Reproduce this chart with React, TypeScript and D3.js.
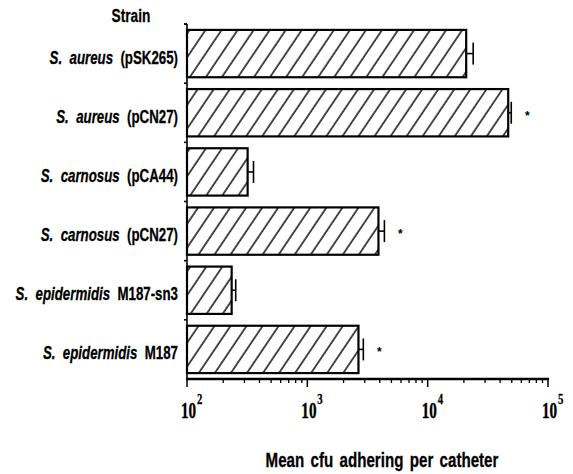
import React from "react";
import * as d3 from "d3";

const species = ["S. aureus", "S. aureus", "S. carnosus", "S. carnosus", "S. epidermidis", "S. epidermidis"];
const strainIds = ["(pSK265)", "(pCN27)", "(pCA44)", "(pCN27)", "M187-sn3", "M187"];
const meanCfu = [20900, 46700, 319, 3900, 235, 2660];
const errorHigh = [23900, 49500, 357, 4370, 254, 2920];
const significant = [false, true, false, true, false, true];
const tickExponents = [2, 3, 4, 5];

const W = 573;
const H = 474;
const left = 187;
const right = 548;
const top = 24;
const bottom = 379;
const SX = 0.7;

export default function App() {
  const keys = species.map((_, i) => String(i));
  const x = d3.scaleLog().domain([100, 100000]).range([left, right]);
  const y = d3.scaleBand<string>().domain(keys).range([top, bottom]).paddingInner(0.2).paddingOuter(0.1);
  const bw = y.bandwidth();

  const minor: number[] = [];
  for (let e = 2; e < 5; e++) {
    for (let m = 2; m <= 9; m++) minor.push(m * Math.pow(10, e));
  }
  const boundaries = keys.map((k) => (y(k) as number) - (y.step() * y.paddingInner()) / 2);

  const sans = "'Liberation Sans', Arial, Helvetica, sans-serif";
  const serif = "'Liberation Serif', 'Times New Roman', serif";

  return (
    <svg width={W} height={H} style={{ position: "absolute", left: 0, top: 0, background: "#fff" }}>
      <defs>
        <pattern id="hatch" patternUnits="userSpaceOnUse" width={13.3} height={20} patternTransform="rotate(34)">
          <line x1={1} y1={0} x2={1} y2={20} stroke="#000" strokeWidth={1.4} />
        </pattern>
      </defs>
      <rect x={0} y={0} width={W} height={H} fill="#fff" />

      {/* title */}
      <text transform={`translate(131,22) scale(0.72,1)`} textAnchor="middle" fontFamily={sans} fontWeight="bold" fontSize={19} stroke="#000" strokeWidth={0.3}>
        Strain
      </text>

      {/* bars */}
      {keys.map((k, i) => {
        const y0 = y(k) as number;
        const cy = y0 + bw / 2;
        const xe = x(meanCfu[i]);
        const xh = x(errorHigh[i]);
        return (
          <g key={k}>
            <rect x={left} y={y0} width={xe - left} height={bw} fill="url(#hatch)" stroke="#000" strokeWidth={2.2} />
            <line x1={xe} x2={xh} y1={cy} y2={cy} stroke="#000" strokeWidth={1.6} />
            <line x1={xh} x2={xh} y1={cy - 11} y2={cy + 11} stroke="#000" strokeWidth={1.6} />
            {significant[i] && (
              <text x={xh + 16} y={cy + 7} textAnchor="middle" fontFamily={sans} fontWeight="bold" fontSize={12}>
                *
              </text>
            )}
            <text transform={`translate(178,${cy + 10}) scale(${SX},1)`} textAnchor="end" fontFamily={sans} fontWeight="bold" fontSize={19} stroke="#000" strokeWidth={0.3} style={{ whiteSpace: "pre" }}>
              <tspan fontStyle="italic">{species[i].replace(" ", "\u00a0\u00a0")}</tspan>
              <tspan>{"\u00a0\u00a0" + strainIds[i]}</tspan>
            </text>
          </g>
        );
      })}

      {/* left axis */}
      <line x1={left} x2={left} y1={top} y2={bottom} stroke="#000" strokeWidth={1.6} />
      {boundaries.concat([top]).map((b, i) => (
        <line key={i} x1={left - 3} x2={left} y1={b} y2={b} stroke="#000" strokeWidth={1.6} />
      ))}

      {/* bottom axis */}
      <line x1={left - 1} x2={right + 1} y1={bottom} y2={bottom} stroke="#000" strokeWidth={2.5} />
      {minor.map((v, i) => (
        <line key={i} x1={x(v)} x2={x(v)} y1={bottom} y2={bottom + 4} stroke="#000" strokeWidth={1.3} />
      ))}
      {tickExponents.map((e) => {
        const tx = x(Math.pow(10, e));
        return (
          <g key={e}>
            <line x1={tx} x2={tx} y1={bottom} y2={bottom + 8} stroke="#000" strokeWidth={1.5} />
            <text transform={`translate(${tx - 6},418) scale(0.66,1)`} fontFamily={serif} fontWeight="bold" fontSize={23} stroke="#000" strokeWidth={0.4}>
              10
            </text>
            <text transform={`translate(${tx + 10},404) scale(0.72,1)`} fontFamily={serif} fontWeight="bold" fontSize={15} stroke="#000" strokeWidth={0.3}>
              {e}
            </text>
          </g>
        );
      })}

      {/* x axis title */}
      <text transform={`translate(382,467) scale(0.72,1)`} textAnchor="middle" fontFamily={sans} fontWeight="bold" fontSize={21} stroke="#000" strokeWidth={0.3} style={{ whiteSpace: "pre" }} wordSpacing={3}>
        Mean cfu adhering per catheter
      </text>
    </svg>
  );
}
